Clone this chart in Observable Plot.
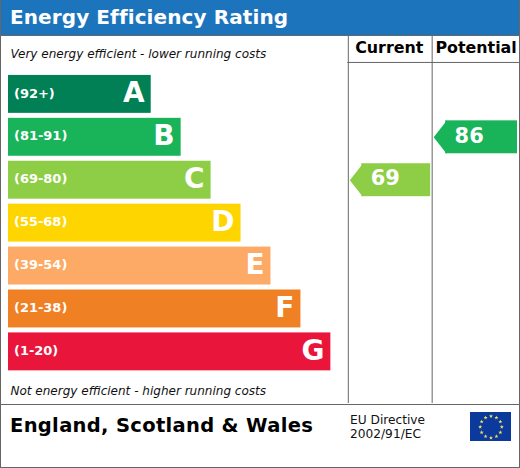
<!DOCTYPE html>
<html><head><meta charset="utf-8">
<script src="https://cdn.jsdelivr.net/npm/d3@7"></script>
<script src="https://cdn.jsdelivr.net/npm/@observablehq/plot@0.6"></script>
<style>
html,body{margin:0;padding:0;background:#fff}
body{width:520px;height:468px;overflow:hidden;font-family:"DejaVu Sans",sans-serif}
#card{position:relative;width:520px;height:468px;box-sizing:border-box;border:1px solid #666;border-top:0;overflow:hidden}
#title{position:absolute;left:-1px;top:0;width:520px;height:36px;background:#1c75bc;border-bottom:1px solid #666;box-sizing:border-box;color:#fff;font-weight:bold;font-size:20px;line-height:35px;padding-left:10px;letter-spacing:.1px;white-space:nowrap}
#chart{position:absolute;left:-1px;top:36px}
#chart svg,#flag svg{display:block}
#foot{position:absolute;left:-1px;top:404px;width:520px;height:64px;border-top:1px solid #666;box-sizing:border-box}
#region{position:absolute;left:10px;top:9px;font-weight:bold;font-size:19.5px;line-height:24px;color:#000;letter-spacing:.32px;white-space:nowrap}
#dir{position:absolute;left:350px;top:8px;font-size:12.2px;line-height:14px;color:#111}
#flag{position:absolute;left:470px;top:7px}
</style></head><body>
<div id="card">
<div id="title"></div>
<div id="chart"></div>
<div id="foot"><div id="region"></div><div id="dir"></div><div id="flag"></div></div>
</div>
<script>
const titleText = "Energy Efficiency Rating";
const topNote = "Very energy efficient - lower running costs";
const bottomNote = "Not energy efficient - higher running costs";
const regionText = "England, Scotland & Wales";
const directiveLines = ["EU Directive", "2002/91/EC"];
const letters = ["A","B","C","D","E","F","G"];
const ranges = ["(92+)","(81-91)","(69-80)","(55-68)","(39-54)","(21-38)","(1-20)"];
const lows = [92,81,69,55,39,21,1];
const barEnds = [151,181,211,241,271,301,331];
const colors = ["#008054","#19b459","#8dce46","#ffd500","#fcaa65","#ef8023","#e9153b"];
const columnNames = ["Current","Potential"];
const columnValues = [69,86];

const barStart = 8, colLines = [348,432], colMid = [389.5,476.5], shoulders = [362,446], rights = [431,518];
const W = 520, H = 368, line = "#666";

const rows = letters.map((l,i)=>({letter:l,range:ranges[i],end:barEnds[i],color:colors[i]}));
const bandOf = v => letters[lows.findIndex(low => v >= low)];
const ratings = columnValues.map((v,i)=>({value:v,letter:bandOf(v),shoulder:shoulders[i],right:rights[i]}));

const leftTip = {draw(ctx,size){const r=Math.sqrt(size/Math.PI);ctx.moveTo(1,-r);ctx.lineTo(1,r);ctx.lineTo(-r*12/16.5,0);ctx.closePath();}};

document.getElementById("title").textContent = titleText;
document.getElementById("region").textContent = regionText;
document.getElementById("dir").innerHTML = directiveLines.join("<br>");

const chart = Plot.plot({
  width:W,height:H,margin:0,
  style:{fontFamily:"'DejaVu Sans',sans-serif",background:"transparent"},
  x:{domain:[0,W],range:[0,W],axis:null},
  y:{type:"band",domain:letters,range:[39,335],paddingInner:5/43,paddingOuter:0,round:false,axis:null},
  marks:[
    Plot.ruleX(colLines,{stroke:line,strokeWidth:1,dx:.5}),
    Plot.barX([{x1:colLines[0],x2:W}],{x1:"x1",x2:"x2",fill:line,insetTop:26,insetBottom:H-27}),
    Plot.barX(rows,{x1:()=>barStart,x2:"end",y:"letter",fill:"color"}),
    Plot.text(rows,{x:()=>barStart,y:"letter",text:"range",dx:5.5,dy:-1,textAnchor:"start",fill:"#fff",fontWeight:"bold",fontSize:13}),
    Plot.text(rows,{x:"end",y:"letter",text:"letter",dx:-6.5,dy:-1,textAnchor:"end",fill:"#fff",fontWeight:"bold",fontSize:28}),
    Plot.text([topNote],{x:()=>10,frameAnchor:"top",dy:13,text:d=>d,textAnchor:"start",fontStyle:"italic",fontSize:12.05,fill:"#111"}),
    Plot.text([bottomNote],{x:()=>10,frameAnchor:"top",dy:351,text:d=>d,textAnchor:"start",fontStyle:"italic",fontSize:12.05,fill:"#111"}),
    Plot.text(columnNames,{x:(d,i)=>colMid[i],frameAnchor:"top",dy:5.5,text:d=>d,fontWeight:"bold",fontSize:15.9,fill:"#000"}),
    Plot.barX(ratings,{x1:"shoulder",x2:"right",y:"letter",fill:d=>colors[letters.indexOf(d.letter)],insetTop:2.5,insetBottom:2.5}),
    Plot.dot(ratings,{x:"shoulder",y:"letter",r:16.5,symbol:leftTip,fill:d=>colors[letters.indexOf(d.letter)],stroke:"none"}),
    Plot.text(ratings,{x:"shoulder",y:"letter",text:"value",dx:9,dy:-1.5,textAnchor:"start",fill:"#fff",fontWeight:"bold",fontSize:21}),
  ]
});
document.getElementById("chart").append(chart);

const starAngles = d3.range(12).map(i=>i*Math.PI/6);
const flag = Plot.plot({
  width:41,height:29,margin:0,
  style:{background:"#0b3a9c"},
  x:{domain:[-20.5,20.5],range:[0,41],axis:null},
  y:{domain:[-14.5,14.5],range:[0,29],axis:null},
  marks:[
    Plot.dot(starAngles,{x:a=>10.8*Math.cos(a),y:a=>10.8*Math.sin(a),r:1.3,symbol:"star",fill:"#f4e85a",stroke:"none"})
  ]
});
document.getElementById("flag").append(flag);
</script>
</body></html>
